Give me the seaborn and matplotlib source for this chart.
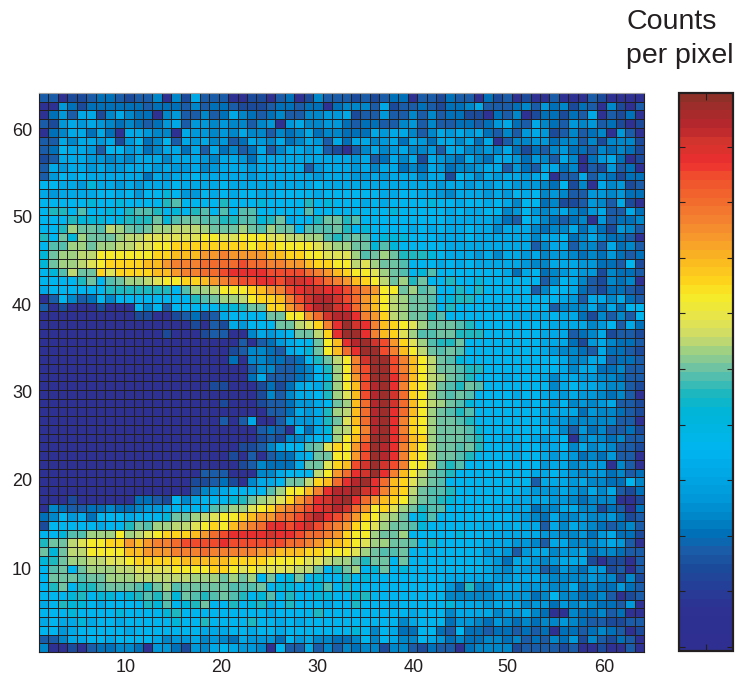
import pandas as pd
import matplotlib
matplotlib.use('Agg')
import matplotlib.pyplot as plt
from matplotlib.colors import LinearSegmentedColormap
import seaborn as sns

# colour levels of the colorbar, low to high, with where each sits on the bar (0-1)
level_colors = ['#2e2f90', '#2e3192', '#1b4b9b', '#1a5ca8', '#0070b8', '#0085c8',
                '#0098d8', '#00a8e6', '#00b5ef', '#00b5d6', '#1cb8bf', '#4fbcb0',
                '#7cc69c', '#a0d182', '#c5da6e', '#dfe257', '#f8ec27', '#fdd41c',
                '#fbbb1f', '#f6a029', '#f5862f', '#f26d2d', '#ef4e2c', '#ed2e30',
                '#d2342d', '#b9272e', '#a02c2a', '#8f3028']
level_pos = [0.0, 0.07, 0.145, 0.175, 0.205, 0.235, 0.27, 0.315, 0.36, 0.43, 0.46, 0.49,
             0.515, 0.54, 0.56, 0.585, 0.64, 0.665, 0.70, 0.735, 0.77, 0.81, 0.855, 0.88,
             0.92, 0.945, 0.98, 1.0]

# counts per pixel, one string per row from y=64 down to y=1, base 36 level digits
rows = [
    '33122344 32335152 73331122 13412533 32323441 33243314 23121131 11321111',
    '11642444 44434443 53443222 34434414 55537233 43244573 33453645 24315213',
    '14637725 75441563 35347543 45335566 72336335 35344221 43512442 43713241',
    '32676765 45434673 66565535 61675566 43443356 35334434 67437543 65634212',
    '14577474 17765517 66565755 35457455 44476775 35767674 35367623 53451631',
    '33757767 26845837 67563476 57457637 47756747 64775747 13556645 53525552',
    '34877638 86745774 73745347 35776732 13575675 56377556 57424356 44354542',
    '23777665 65777577 76577647 77777777 76734757 27654754 77646537 51467412',
    '37677676 67776766 75677767 77773677 76757745 47645567 73643774 51326341',
    '36878777 77747677 87777767 77777677 76676777 57728757 67767813 37354244',
    '88776977 67677787 77787777 77777877 77777777 77677676 77666548 25175623',
    '76777788 78688986 68787887 78888788 88887788 77657776 76878565 33665644',
    '88888988 98888ab8 888a8889 8888a898 88787888 89887887 87588452 23653721',
    '8aa8b889 8abba898 ab8b8bb8 8888b888 88888988 88878778 85686567 54673374',
    '888a9998 9aaac9bc cbbaabb9 ac788acc ab888888 88877777 64387543 45163445',
    '88adccbe dcbcddee edcccdcb dcc8bbbc a8988887 87877877 57775455 74642653',
    'a8c9dccc deefffff fggffggg ffeeddba bcb89998 88777877 77775778 45754431',
    '8bbddcdd eeffgghh hhhhhhgh hggggfed dcc9b988 88877777 77773577 35537453',
    '9cddeegg gggghhii ijjkjjjj iihhggff fdbcdcaa a9877767 57767566 54546434',
    '9cddefgh hhhiijkk kllllmll kkjjihhg gefdccb8 88787877 77765577 76644382',
    '89becchf hhhhiijk kllmnnnn mmmmlkji hggfdcb8 9b888888 87478456 76625443',
    '8888ac8b cddefggh hijklmmn nmoonmlk jihgecda c88a8898 88888358 75325451',
    '7888888a aaaaaa8b ddegggh i jkmnoonn mlkjggcd bc88a8a8 88883588 74324432',
    '1385348 5 88888888 abcddegh hikmopp o mljigedc cb89aa88 88888887 63775743',
    '31211121 11858388 8889 9ac c hhjlnpq o nljigedc cb8a8888 78888835 55747488',
    '11111111 11221123 42378888 ccggjlop pnkjhedc cab88888 88777787 74253538',
    '11111111 11111111 21327688 8ccefhkn qonkihgf dcccba88 88888877 77568374',
    '11111111 11111211 12331157 678ccehn qqnkihfd bbccaaa8 88888777 34572332',
    '11111111 11111111 11111313 46788cgi npqomjhf dbaac888 88888777 42675443',
    '11111111 11111111 11112355 43789cgi lnqqmkig ecbcb888 88888765 54374432',
    '11111111 11111111 11114155 44348ace gkoqqmki gecb9888 88888887 55773443',
    '11111111 11111111 11111135 53345 8ad gkmqqmki geccbaa8 88888887 57744533',
    '11111111 11111111 11111147 33345 89d gjmqqnli gedcba88 87888757 76655433',
    '11111111 11111111 11221112 42478 7ad gimpqnkh gecbacb8 88888857 87765532',
    '11111111 11111111 11111112 53577 8ad fimpqolh gdcbcb88 88788776 76654531',
    '11111111 11111111 11121112 33466 78c dilpqoli gedcb988 88878868 56567332',
    '11111111 11111111 11111111 33476 7ad eilpqnli gdcbab88 88888777 74655432',
    '11111111 11111111 11131371 13666 7ac filpqnkh gdccba88 88888766 55555331',
    '11111111 11111111 11111113 43184 79d ehkpqnkh gdcccb98 88888875 36453342',
    '11111111 11111111 11111112 32557 88d gilqqnli hdcccba8 87887678 15654533',
    '11111111 11111111 11111223 5788 bcfh gjmqpnki gdccbca8 88788778 57565332',
    '11111111 11111111 11112131 34478 ccg gjmqpnkh gdccba88 88788767 64546331',
    '11111111 11111111 11111235 4447 ccfh imoqomkg gebab888 88888677 56661531',
    '11111111 11111111 13331115 5788 8egj lnoqnkig ecba8888 88887787 65664534',
    '11111111 11111111 22342157 78cceh il npqnlihf dcb88888 88883777 67554485',
    '11111111 11111111 35678888 bdggiknp pqonkihe cbba8888 88876667 65757324',
    '11121111 11443285 78889acd efhjlnop qnljihgd cba98888 88777766 54555112',
    '15433445 44566788 88bcddfg hjklmnop oljghfdc abb88888 77774557 75524314',
    '45867488 87888 9cc defgghij jllmopnm ljhgedc8 9b888888 88765475 56556423',
    '28888878 8acbddee fghgijkl nnmnomlk jhgfdccb 98888887 87877375 76543453',
    '889bbddd gdefghhh ijlmnnnn onnmllkj hggdccd8 88889888 77777665 56467442',
    'accefggh hjijkklm mmmnmmmm mmllkjii hgfddccb 8a888887 77665377 55567631',
    'c9ceeggg giijjjkk klkkkkkj jiiihhgg gfdcbbc8 88888886 76367756 67455433',
    '9acddeef fghhhhhi iiiihhhh ggggffed dcacc8c8 88888887 64776567 77212213',
    '8bc8cddd eeffffgg gghhgfgf fffeec8a cd89c898 88888887 65766346 54662313',
    '8cccbccd ddeeeeee dddcdcd8 c89c8988 a8988888 88877777 66777655 55655252',
    '8ac8aabc ccbacdbc ccccbbbc 89988 9b8 a8888888 88864a55 77766655 74544643',
    '8889a899 89abac9c babcba89 b8a88998 89a88888 88855555 66664585 54453123',
    '78a99878 888a9b89 ac88a89a 78a88878 8a888788 88897776 77756646 56544361',
    '88898888 98888 9a8 88888888 78888a88 88888887 88857777 56675411 54453411',
    '78779788 78888898 8a8888a8 87878888 88888857 88846654 65454556 54332233',
    '88678888 87888888 87778878 87888888 89858744 88438443 44343414 43454312',
    '33577887 88887566 75654766 64867554 45858755 87645445 54534354 62532431',
    '51121344 55416642 65787665 18337353 54552553 24331455 55233332 31121131',
]
ylabels = list(range(64, 0, -1))
xlabels = list(range(1, 65))
x_tick_labels = [10, 20, 30, 40, 50, 60]
y_tick_labels = [60, 50, 40, 30, 20, 10]

clean = [r.replace(' ', '') for r in rows]
bad = [(64 - i, len(r)) for i, r in enumerate(clean) if len(r) != 64]
assert len(clean) == 64 and not bad, (len(clean), bad)
df = pd.DataFrame([[level_pos[int(c, 36)] for c in r] for r in clean], index=ylabels, columns=xlabels)

sns.set_style('white')
plt.rcParams['font.family'] = ['Liberation Sans', 'DejaVu Sans']
ink = '#231f20'
cmap = LinearSegmentedColormap.from_list('counts', list(zip(level_pos, level_colors)), N=64)

fig = plt.figure(figsize=(7.35, 6.77), dpi=100)
ax = fig.add_axes([39 / 735, 25 / 677, 605 / 735, 559 / 677])
cax = fig.add_axes([679 / 735, 26 / 677, 54 / 735, 558 / 677])

sns.heatmap(df, ax=ax, cbar_ax=cax, cmap=cmap, vmin=0, vmax=1,
            linewidths=0.5, linecolor=ink, square=False)

ax.set_xticks([9.15, 19.26, 29.4, 39.6, 49.6, 59.8])
ax.set_xticklabels(x_tick_labels, rotation=0)
ax.set_yticks([4.4, 14.4, 24.5, 34.4, 44.5, 54.7])
ax.set_yticklabels(y_tick_labels, rotation=0)
ax.tick_params(length=0, labelsize=13, labelcolor=ink, pad=5)
for side in ax.spines:
    ax.spines[side].set_visible(True)
    ax.spines[side].set_color(ink)
    ax.spines[side].set_linewidth(0.8)
ax.spines['top'].set_color('#a0a0a0')

# colorbar: inward ticks on both sides, no labels
cbar = ax.collections[0].colorbar
cbar.outline.set_edgecolor(ink)
cbar.outline.set_linewidth(1.6)
cbar_ticks = [0.0075 + 0.0996 * i for i in range(10)]
cbar.set_ticks(cbar_ticks)
cax.set_axisbelow(False)
cax.tick_params(axis='y', which='both', left=True, right=True, direction='in',
                length=4, width=0.8, color=ink, labelleft=False, labelright=False)
cax.minorticks_off()
cax.set_xticks([0.5])
cax.tick_params(axis='x', top=True, bottom=True, direction='in', length=5, width=0.8,
                color=ink, labelbottom=False, labeltop=False)

fig.text(626 / 735, 1 - 29 / 677, 'Counts', fontsize=20.5, color=ink, va='baseline')
fig.text(626 / 735, 1 - 63 / 677, 'per pixel', fontsize=20.5, color=ink, va='baseline')

plt.savefig('out.png', dpi=100)
plt.close()
